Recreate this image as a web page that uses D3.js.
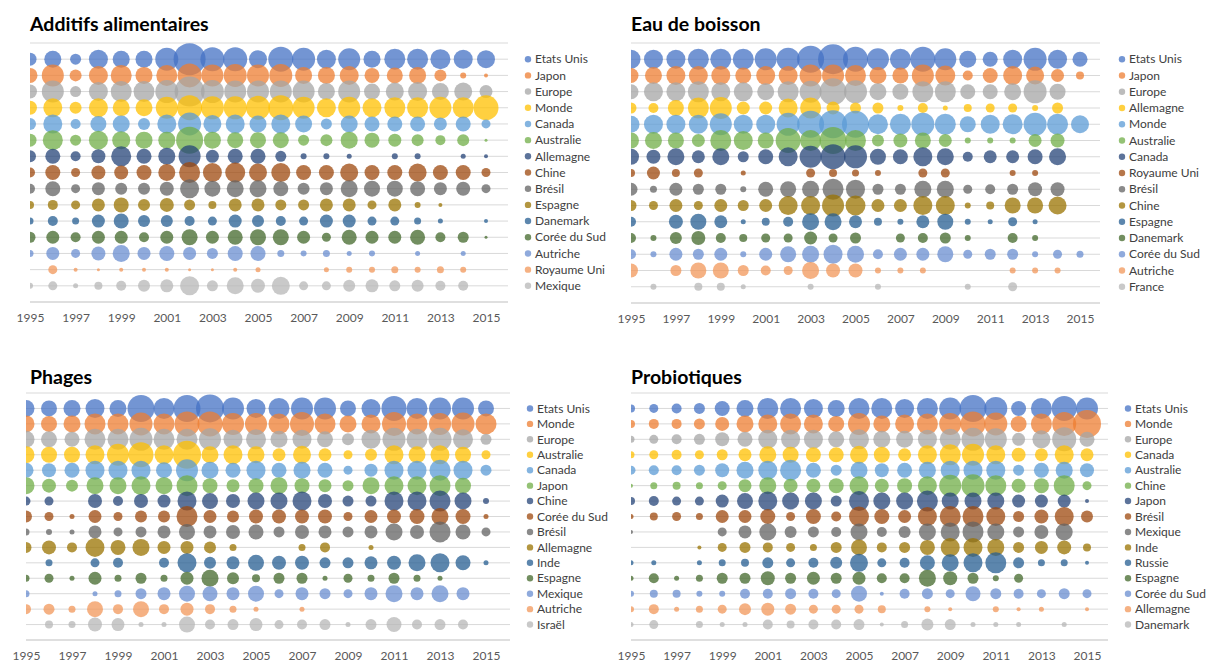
<!DOCTYPE html>
<html>
<head>
<meta charset="utf-8">
<script src="https://cdn.jsdelivr.net/npm/d3@7"></script>
<style>
  body { margin: 0; background: #fff; }
  svg text { font-family: Lato, "Open Sans", sans-serif; }
</style>
</head>
<body>
<div id="chart"></div>
<script>
// years on the x axis
var years = d3.range(1995, 2016);
var tickYears = [1995, 1997, 1999, 2001, 2003, 2005, 2007, 2009, 2011, 2013, 2015];

// Excel office palette, one per row
var colors = ["#4472C4", "#ED7D31", "#A5A5A5", "#FFC000", "#5B9BD5", "#70AD47",
  "#264478", "#9E480E", "#636363", "#997300", "#255E91", "#43682B",
  "#698ED0", "#F1975A", "#B7B7B7"];

// bubble sizes (diameter), one row per country, 1995..2015
var additifsNames = ["Etats Unis", "Japon", "Europe", "Monde", "Canada", "Australie", "Allemagne",
  "Chine", "Brésil", "Espagne", "Danemark", "Corée du Sud", "Autriche", "Royaume Uni", "Mexique"];
var additifsValues = [
  [13, 17, 11, 19, 17, 17, 23, 32, 24, 24, 18, 25, 23, 19, 22, 17, 21, 21, 20, 19, 18],
  [15, 22, 12, 19, 21, 17, 21, 24, 22, 23, 22, 23, 17, 17, 19, 15, 16, 17, 12, 6, 4],
  [14, 22, 11, 19, 21, 21, 23, 30, 23, 22, 22, 22, 22, 17, 22, 16, 18, 19, 17, 18, 13],
  [14, 19, 12, 19, 17, 17, 22, 25, 23, 23, 24, 25, 22, 19, 22, 19, 21, 21, 22, 21, 25],
  [12, 19, 10, 16, 17, 12, 19, 23, 18, 19, 17, 19, 17, 11, 17, 15, 15, 15, 13, 15, 9],
  [13, 20, 11, 19, 18, 17, 17, 27, 17, 16, 16, 16, 11, 12, 17, 15, 13, 12, 10, 12, 3],
  [12, 15, 10, 14, 20, 15, 17, 22, 13, 15, 15, 11, 6, 6, 5, 0, 6, 6, 0, 5, 4],
  [10, 15, 9, 14, 14, 15, 17, 21, 19, 20, 18, 19, 15, 15, 18, 15, 15, 18, 15, 15, 9],
  [10, 15, 9, 13, 12, 12, 14, 19, 16, 17, 17, 15, 12, 13, 17, 16, 16, 15, 13, 14, 9],
  [8, 10, 9, 13, 15, 12, 14, 11, 8, 13, 13, 11, 11, 13, 13, 9, 13, 6, 4, 0, 0],
  [7, 10, 7, 13, 15, 12, 12, 10, 9, 13, 12, 10, 9, 13, 13, 9, 9, 7, 5, 0, 4],
  [11, 13, 10, 13, 13, 10, 13, 16, 13, 15, 16, 16, 13, 9, 15, 13, 13, 15, 10, 11, 3],
  [7, 13, 9, 14, 17, 13, 15, 13, 11, 15, 15, 7, 6, 7, 5, 6, 0, 5, 0, 5, 0],
  [0, 9, 4, 3, 4, 4, 4, 3, 3, 4, 5, 0, 0, 5, 6, 6, 7, 6, 7, 6, 0],
  [6, 9, 5, 8, 10, 12, 13, 19, 11, 17, 14, 18, 9, 9, 12, 13, 11, 12, 10, 10, 0]
];

var eauNames = ["Etats Unis", "Japon", "Europe", "Allemagne", "Monde", "Australie", "Canada",
  "Royaume Uni", "Brésil", "Chine", "Espagne", "Danemark", "Corée du Sud", "Autriche", "France"];
var eauValues = [
  [19, 19, 19, 21, 21, 21, 22, 23, 27, 30, 25, 22, 21, 25, 22, 17, 15, 19, 23, 19, 15],
  [15, 17, 19, 19, 19, 16, 19, 19, 22, 22, 21, 17, 16, 22, 20, 10, 15, 19, 18, 13, 8],
  [15, 19, 19, 21, 19, 19, 17, 21, 22, 27, 23, 17, 16, 21, 21, 15, 15, 17, 23, 16, 0],
  [11, 10, 16, 21, 22, 13, 13, 19, 21, 13, 11, 11, 6, 10, 5, 8, 9, 9, 6, 11, 0],
  [17, 19, 19, 19, 22, 19, 19, 23, 27, 28, 27, 20, 21, 23, 21, 16, 19, 20, 23, 21, 18],
  [16, 17, 16, 13, 21, 19, 16, 25, 21, 27, 21, 12, 14, 16, 13, 6, 6, 6, 13, 14, 0],
  [16, 14, 17, 13, 17, 11, 15, 19, 22, 25, 23, 16, 15, 19, 17, 10, 13, 13, 15, 17, 0],
  [8, 13, 8, 9, 0, 5, 0, 0, 9, 8, 7, 6, 0, 9, 9, 0, 0, 6, 6, 0, 0],
  [13, 7, 13, 11, 11, 6, 15, 16, 17, 21, 19, 11, 11, 17, 17, 9, 10, 11, 14, 14, 0],
  [11, 9, 13, 9, 13, 11, 13, 19, 19, 22, 20, 13, 13, 19, 19, 6, 8, 16, 16, 18, 0],
  [10, 0, 14, 16, 13, 5, 8, 10, 17, 17, 13, 8, 6, 13, 16, 6, 5, 9, 5, 0, 0],
  [10, 6, 12, 14, 10, 8, 9, 9, 13, 9, 11, 0, 9, 10, 11, 6, 0, 10, 6, 0, 0],
  [10, 6, 13, 11, 13, 6, 13, 16, 17, 19, 17, 10, 13, 13, 16, 9, 11, 11, 6, 9, 7],
  [14, 0, 11, 16, 16, 11, 10, 9, 17, 14, 14, 6, 6, 6, 0, 0, 0, 6, 6, 6, 0],
  [0, 6, 0, 8, 8, 5, 0, 0, 6, 0, 0, 6, 0, 0, 0, 6, 0, 9, 0, 0, 0]
];

var phagesNames = ["Etats Unis", "Monde", "Europe", "Australie", "Canada", "Japon", "Chine",
  "Corée du Sud", "Brésil", "Allemagne", "Inde", "Espagne", "Mexique", "Autriche", "Israël"];
var phagesValues = [
  [17, 16, 17, 19, 17, 27, 21, 27, 28, 22, 19, 21, 22, 22, 16, 19, 25, 21, 22, 22, 16],
  [17, 16, 17, 21, 21, 23, 21, 25, 25, 22, 22, 21, 24, 21, 17, 19, 24, 21, 22, 23, 21],
  [17, 16, 15, 21, 21, 23, 21, 21, 22, 19, 20, 17, 19, 16, 12, 19, 23, 21, 23, 20, 11],
  [17, 16, 16, 19, 22, 25, 19, 28, 17, 19, 17, 13, 18, 13, 9, 12, 19, 17, 19, 16, 9],
  [15, 14, 15, 19, 19, 19, 16, 22, 17, 15, 19, 15, 17, 15, 9, 13, 19, 19, 21, 19, 11],
  [17, 14, 12, 17, 17, 19, 17, 21, 15, 13, 15, 17, 15, 13, 11, 17, 19, 19, 21, 16, 0],
  [9, 9, 0, 14, 10, 14, 13, 19, 16, 14, 17, 17, 19, 14, 11, 11, 19, 19, 21, 17, 6],
  [12, 9, 5, 13, 9, 12, 12, 21, 13, 12, 14, 14, 14, 14, 9, 13, 14, 15, 17, 15, 5],
  [7, 6, 5, 13, 9, 11, 13, 16, 13, 14, 15, 11, 14, 13, 11, 13, 17, 14, 21, 15, 9],
  [11, 14, 10, 19, 15, 17, 13, 13, 12, 7, 0, 0, 7, 10, 0, 5, 0, 0, 0, 0, 0],
  [0, 7, 0, 9, 10, 0, 10, 19, 12, 13, 16, 14, 14, 11, 11, 13, 14, 17, 19, 15, 5],
  [7, 9, 5, 13, 7, 11, 7, 13, 17, 12, 8, 11, 11, 5, 9, 7, 11, 7, 5, 0, 0],
  [7, 0, 0, 5, 7, 11, 13, 16, 15, 13, 16, 9, 13, 11, 9, 13, 17, 13, 17, 13, 0],
  [10, 11, 7, 16, 10, 16, 10, 13, 10, 7, 5, 0, 5, 0, 0, 0, 0, 0, 0, 0, 0],
  [0, 8, 7, 14, 13, 5, 5, 16, 10, 11, 13, 9, 10, 11, 5, 11, 15, 10, 11, 10, 0]
];

var probioNames = ["Etats Unis", "Monde", "Europe", "Canada", "Australie", "Chine", "Japon",
  "Brésil", "Mexique", "Inde", "Russie", "Espagne", "Corée du Sud", "Allemagne", "Danemark"];
var probioValues = [
  [8, 9, 10, 11, 15, 17, 21, 21, 19, 17, 21, 21, 19, 21, 22, 27, 23, 15, 21, 25, 22],
  [8, 10, 10, 11, 14, 17, 19, 21, 19, 16, 22, 17, 19, 21, 22, 25, 23, 16, 21, 24, 28],
  [7, 9, 10, 11, 14, 15, 19, 19, 19, 16, 20, 17, 17, 19, 21, 23, 22, 13, 18, 24, 15],
  [7, 9, 10, 9, 11, 13, 17, 16, 15, 15, 18, 16, 13, 19, 21, 22, 19, 14, 13, 19, 13],
  [9, 10, 10, 11, 14, 17, 19, 21, 15, 11, 17, 14, 15, 17, 19, 19, 19, 11, 15, 17, 14],
  [4, 7, 8, 7, 9, 13, 17, 14, 14, 15, 19, 14, 15, 19, 22, 23, 21, 14, 15, 21, 9],
  [8, 10, 9, 9, 13, 16, 19, 17, 17, 11, 20, 17, 17, 21, 17, 17, 17, 13, 13, 13, 4],
  [5, 8, 9, 7, 13, 13, 15, 9, 15, 10, 20, 15, 13, 19, 21, 21, 19, 11, 14, 19, 12],
  [4, 0, 0, 0, 9, 13, 17, 12, 11, 10, 17, 10, 12, 17, 19, 21, 17, 11, 14, 17, 0],
  [0, 0, 0, 4, 9, 11, 10, 9, 7, 11, 16, 10, 11, 15, 19, 19, 17, 11, 13, 14, 8],
  [5, 5, 0, 5, 7, 8, 11, 9, 10, 12, 18, 9, 10, 15, 17, 19, 21, 11, 7, 7, 4],
  [5, 10, 5, 7, 11, 11, 14, 11, 13, 11, 13, 10, 10, 17, 14, 11, 6, 9, 0, 0, 0],
  [6, 8, 8, 6, 6, 10, 10, 11, 10, 9, 16, 4, 10, 11, 9, 15, 11, 10, 9, 11, 9],
  [6, 10, 5, 7, 9, 12, 13, 11, 9, 9, 9, 8, 0, 6, 4, 0, 6, 4, 5, 0, 4],
  [5, 9, 0, 7, 5, 5, 10, 8, 10, 10, 11, 4, 7, 12, 11, 5, 5, 5, 0, 5, 0]
];

var width = 1210, height = 664;

var svg = d3.select("#chart").append("svg")
    .attr("width", width)
    .attr("height", height);

var panels = [
  { title: "Additifs alimentaires", names: additifsNames, values: additifsValues,
    x0: 30, x1: 486, right: 508, top: 43, bottom: 302, legendX: 528, titleY: 31 },
  { title: "Eau de boisson", names: eauNames, values: eauValues,
    x0: 631, x1: 1080, right: 1100, top: 43, bottom: 303, legendX: 1122, titleY: 31 },
  { title: "Phages", names: phagesNames, values: phagesValues,
    x0: 26, x1: 486, right: 510, top: 393, bottom: 640, legendX: 530, titleY: 384 },
  { title: "Probiotiques", names: probioNames, values: probioValues,
    x0: 631, x1: 1087, right: 1108, top: 393, bottom: 640, legendX: 1128, titleY: 384 }
];

// bubble diameter in px -> radius
var r = d3.scaleLinear().domain([0, 32]).range([0, 16]);

panels.forEach(function(p, i) {
  var g = svg.append("g");

  var x = d3.scaleLinear().domain([1995, 2015]).range([p.x0, p.x1]);
  var y = d3.scaleLinear().domain([0, 16]).range([p.top, p.bottom]);

  g.append("text")
      .attr("x", p.x0 < 100 ? 30 : p.x0)
      .attr("y", p.titleY)
      .attr("font-size", 19.5)
      .attr("font-weight", "bold")
      .attr("fill", "#000")
      .text(p.title);

  // gridlines
  g.selectAll(".grid")
      .data(d3.range(0, 16))
    .enter().append("line")
      .attr("x1", p.x0)
      .attr("x2", p.right)
      .attr("y1", function(d) { return y(d); })
      .attr("y2", function(d) { return y(d); })
      .attr("stroke", "#D9D9D9")
      .attr("stroke-width", 1);

  g.append("line")
      .attr("x1", p.x0)
      .attr("x2", p.right)
      .attr("y1", y(16))
      .attr("y2", y(16))
      .attr("stroke", "#BFBFBF")
      .attr("stroke-width", 1);

  var clipId = "clip" + i;
  g.append("clipPath").attr("id", clipId)
    .append("rect")
      .attr("x", p.x0)
      .attr("y", p.top - 2)
      .attr("width", p.right - p.x0)
      .attr("height", p.bottom - p.top + 2);

  var plot = g.append("g").attr("clip-path", "url(#" + clipId + ")");

  p.values.forEach(function(row, k) {
    plot.selectAll(".b" + k)
        .data(row.map(function(v, j) { return { year: years[j], v: v }; })
          .filter(function(d) { return d.v > 0; }))
      .enter().append("circle")
        .attr("cx", function(d) { return x(d.year); })
        .attr("cy", y(k + 1))
        .attr("r", function(d) { return r(d.v); })
        .attr("fill", colors[k])
        .attr("fill-opacity", 0.75);
  });

  var axis = g.append("g")
      .attr("transform", "translate(0," + (y(16) + 8) + ")")
      .call(d3.axisBottom(x).tickValues(tickYears).tickFormat(d3.format("d")).tickSize(0));
  axis.select(".domain").remove();
  axis.selectAll("text")
      .attr("font-size", 12)
      .attr("fill", "#595959")
      .style("font-family", "Lato, 'Open Sans', sans-serif");

  // legend
  var leg = g.selectAll(".leg")
      .data(p.names)
    .enter().append("g")
      .attr("transform", function(d, k) { return "translate(" + p.legendX + "," + y(k + 1) + ")"; });

  leg.append("circle")
      .attr("r", 3.2)
      .attr("fill", function(d, k) { return colors[k]; })
      .attr("fill-opacity", 0.75);

  leg.append("text")
      .attr("x", 7)
      .attr("dy", "0.35em")
      .attr("font-size", 12)
      .attr("fill", "#404040")
      .text(function(d) { return d; });
});
</script>
</body>
</html>
